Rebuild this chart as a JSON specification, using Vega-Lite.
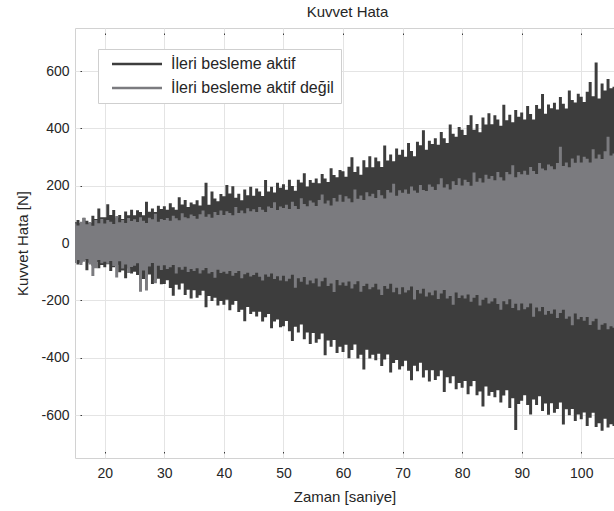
{
  "$schema": "https://vega.github.io/schema/vega-lite/v6.json",
  "width": 539,
  "height": 430,
  "autosize": "none",
  "padding": {"left": 75, "top": 28, "right": 0, "bottom": 53},
  "background": "white",
  "title": {"text": "Kuvvet Hata", "fontSize": 15, "fontWeight": "normal", "font": "Liberation Sans", "color": "#262626", "offset": 8, "dx": 3},
  "config": {
    "view": {"stroke": "#d2d2d2", "strokeWidth": 1},
    "font": "Liberation Sans",
    "axis": {"labelFont": "Liberation Sans", "titleFont": "Liberation Sans", "labelFontSize": 14, "titleFontSize": 15, "titleFontWeight": "normal", "labelColor": "#262626", "titleColor": "#262626", "gridColor": "#e4e4e4", "gridWidth": 1, "domain": false}
  },
  "data": {"values": [
    {"t":15,"ah":72,"al":-59,"dh":69,"dl":-70},{"t":15.5,"ah":80,"al":-75,"dh":61,"dl":-59},{"t":16,"ah":70,"al":-69,"dh":74,"dl":-77},{"t":16.5,"ah":88,"al":-58,"dh":87,"dl":-65},{"t":17,"ah":78,"al":-95,"dh":65,"dl":-56},{"t":17.5,"ah":71,"al":-69,"dh":73,"dl":-75},{"t":18,"ah":95,"al":-79,"dh":60,"dl":-115},{"t":18.5,"ah":84,"al":-66,"dh":80,"dl":-88},{"t":19,"ah":120,"al":-88,"dh":69,"dl":-59},{"t":19.5,"ah":90,"al":-77,"dh":84,"dl":-71},
    {"t":20,"ah":90,"al":-85,"dh":68,"dl":-65},{"t":20.5,"ah":135,"al":-74,"dh":80,"dl":-72},{"t":21,"ah":98,"al":-98,"dh":74,"dl":-63},{"t":21.5,"ah":115,"al":-85,"dh":66,"dl":-80},{"t":22,"ah":89,"al":-76,"dh":94,"dl":-120},{"t":22.5,"ah":98,"al":-102,"dh":72,"dl":-64},{"t":23,"ah":84,"al":-96,"dh":80,"dl":-89},{"t":23.5,"ah":110,"al":-123,"dh":70,"dl":-75},{"t":24,"ah":97,"al":-89,"dh":87,"dl":-105},{"t":24.5,"ah":116,"al":-106,"dh":77,"dl":-84},
    {"t":25,"ah":97,"al":-100,"dh":83,"dl":-79},{"t":25.5,"ah":114,"al":-112,"dh":73,"dl":-71},{"t":26,"ah":108,"al":-102,"dh":90,"dl":-170},{"t":26.5,"ah":97,"al":-126,"dh":78,"dl":-96},{"t":27,"ah":144,"al":-116,"dh":70,"dl":-166},{"t":27.5,"ah":109,"al":-110,"dh":88,"dl":-82},{"t":28,"ah":120,"al":-143,"dh":83,"dl":-70},{"t":28.5,"ah":108,"al":-129,"dh":102,"dl":-140},{"t":29,"ah":130,"al":-125,"dh":74,"dl":-79},{"t":29.5,"ah":119,"al":-144,"dh":84,"dl":-94},
    {"t":30,"ah":128,"al":-143,"dh":80,"dl":-78},{"t":30.5,"ah":116,"al":-130,"dh":87,"dl":-91},{"t":31,"ah":139,"al":-157,"dh":78,"dl":-85},{"t":31.5,"ah":125,"al":-184,"dh":95,"dl":-77},{"t":32,"ah":116,"al":-146,"dh":86,"dl":-106},{"t":32.5,"ah":160,"al":-162,"dh":79,"dl":-85},{"t":33,"ah":134,"al":-141,"dh":104,"dl":-93},{"t":33.5,"ah":150,"al":-181,"dh":90,"dl":-83},{"t":34,"ah":126,"al":-163,"dh":86,"dl":-101},{"t":34.5,"ah":141,"al":-194,"dh":99,"dl":-91},
    {"t":35,"ah":135,"al":-165,"dh":94,"dl":-98},{"t":35.5,"ah":149,"al":-191,"dh":85,"dl":-88},{"t":36,"ah":131,"al":-182,"dh":100,"dl":-106},{"t":36.5,"ah":163,"al":-167,"dh":113,"dl":-95},{"t":37,"ah":210,"al":-224,"dh":92,"dl":-87},{"t":37.5,"ah":133,"al":-185,"dh":100,"dl":-106},{"t":38,"ah":180,"al":-202,"dh":88,"dl":-101},{"t":38.5,"ah":155,"al":-191,"dh":108,"dl":-121},{"t":39,"ah":146,"al":-218,"dh":98,"dl":-93},{"t":39.5,"ah":171,"al":-202,"dh":113,"dl":-105},
    {"t":40,"ah":163,"al":-215,"dh":98,"dl":-100},{"t":40.5,"ah":202,"al":-198,"dh":111,"dl":-107},{"t":41,"ah":173,"al":-235,"dh":105,"dl":-98},{"t":41.5,"ah":198,"al":-215,"dh":97,"dl":-114},{"t":42,"ah":158,"al":-202,"dh":126,"dl":-105},{"t":42.5,"ah":172,"al":-241,"dh":105,"dl":-98},{"t":43,"ah":149,"al":-233,"dh":113,"dl":-123},{"t":43.5,"ah":187,"al":-273,"dh":104,"dl":-109},{"t":44,"ah":167,"al":-223,"dh":121,"dl":-104},{"t":44.5,"ah":196,"al":-248,"dh":111,"dl":-117},
    {"t":45,"ah":165,"al":-240,"dh":118,"dl":-112},{"t":45.5,"ah":190,"al":-256,"dh":108,"dl":-104},{"t":46,"ah":180,"al":-240,"dh":126,"dl":-118},{"t":46.5,"ah":164,"al":-274,"dh":116,"dl":-131},{"t":47,"ah":220,"al":-259,"dh":108,"dl":-110},{"t":47.5,"ah":180,"al":-248,"dh":127,"dl":-118},{"t":48,"ah":196,"al":-297,"dh":122,"dl":-106},{"t":48.5,"ah":176,"al":-274,"dh":142,"dl":-126},{"t":49,"ah":210,"al":-267,"dh":115,"dl":-116},{"t":49.5,"ah":193,"al":-294,"dh":127,"dl":-131},
    {"t":50,"ah":205,"al":-290,"dh":122,"dl":-114},{"t":50.5,"ah":186,"al":-272,"dh":133,"dl":-133},{"t":51,"ah":221,"al":-308,"dh":119,"dl":-125},{"t":51.5,"ah":199,"al":-342,"dh":144,"dl":-111},{"t":52,"ah":182,"al":-292,"dh":129,"dl":-156},{"t":52.5,"ah":221,"al":-312,"dh":119,"dl":-123},{"t":53,"ah":211,"al":-284,"dh":156,"dl":-135},{"t":53.5,"ah":243,"al":-336,"dh":136,"dl":-119},{"t":54,"ah":197,"al":-312,"dh":128,"dl":-145},{"t":54.5,"ah":220,"al":-352,"dh":148,"dl":-131},
    {"t":55,"ah":210,"al":-314,"dh":141,"dl":-140},{"t":55.5,"ah":225,"al":-348,"dh":129,"dl":-124},{"t":56,"ah":208,"al":-336,"dh":150,"dl":-152},{"t":56.5,"ah":241,"al":-316,"dh":169,"dl":-133},{"t":57,"ah":225,"al":-392,"dh":138,"dl":-121},{"t":57.5,"ah":213,"al":-340,"dh":148,"dl":-150},{"t":58,"ah":261,"al":-362,"dh":131,"dl":-141},{"t":58.5,"ah":237,"al":-338,"dh":157,"dl":-171},{"t":59,"ah":229,"al":-384,"dh":145,"dl":-129},{"t":59.5,"ah":255,"al":-362,"dh":168,"dl":-147},
    {"t":60,"ah":250,"al":-380,"dh":144,"dl":-138},{"t":60.5,"ah":231,"al":-355,"dh":163,"dl":-149},{"t":61,"ah":266,"al":-402,"dh":155,"dl":-134},{"t":61.5,"ah":299,"al":-373,"dh":142,"dl":-159},{"t":62,"ah":248,"al":-354,"dh":187,"dl":-144},{"t":62.5,"ah":267,"al":-403,"dh":154,"dl":-133},{"t":63,"ah":238,"al":-390,"dh":166,"dl":-170},{"t":63.5,"ah":289,"al":-441,"dh":150,"dl":-150},{"t":64,"ah":264,"al":-372,"dh":177,"dl":-142},{"t":64.5,"ah":303,"al":-403,"dh":163,"dl":-161},
    {"t":65,"ah":264,"al":-390,"dh":172,"dl":-154},{"t":65.5,"ah":298,"al":-409,"dh":157,"dl":-142},{"t":66,"ah":285,"al":-386,"dh":185,"dl":-162},{"t":66.5,"ah":265,"al":-429,"dh":167,"dl":-181},{"t":67,"ah":340,"al":-406,"dh":155,"dl":-150},{"t":67.5,"ah":288,"al":-389,"dh":185,"dl":-160},{"t":68,"ah":309,"al":-452,"dh":176,"dl":-142},{"t":68.5,"ah":285,"al":-419,"dh":207,"dl":-172},{"t":69,"ah":330,"al":-408,"dh":165,"dl":-156},{"t":69.5,"ah":308,"al":-441,"dh":184,"dl":-179},
    {"t":70,"ah":325,"al":-430,"dh":175,"dl":-154},{"t":70.5,"ah":301,"al":-411,"dh":187,"dl":-173},{"t":71,"ah":349,"al":-446,"dh":172,"dl":-165},{"t":71.5,"ah":321,"al":-479,"dh":197,"dl":-152},{"t":72,"ah":303,"al":-428,"dh":183,"dl":-197},{"t":72.5,"ah":353,"al":-447,"dh":175,"dl":-164},{"t":73,"ah":341,"al":-418,"dh":202,"dl":-176},{"t":73.5,"ah":393,"al":-469,"dh":185,"dl":-160},{"t":74,"ah":325,"al":-444,"dh":181,"dl":-187},{"t":74.5,"ah":357,"al":-483,"dh":204,"dl":-173},
    {"t":75,"ah":345,"al":-444,"dh":196,"dl":-182},{"t":75.5,"ah":365,"al":-478,"dh":185,"dl":-166},{"t":76,"ah":343,"al":-465,"dh":205,"dl":-195},{"t":76.5,"ah":387,"al":-445,"dh":226,"dl":-176},{"t":77,"ah":365,"al":-520,"dh":194,"dl":-164},{"t":77.5,"ah":349,"al":-468,"dh":205,"dl":-194},{"t":78,"ah":413,"al":-489,"dh":187,"dl":-185},{"t":78.5,"ah":381,"al":-465,"dh":215,"dl":-215},{"t":79,"ah":371,"al":-510,"dh":202,"dl":-173},{"t":79.5,"ah":405,"al":-488,"dh":226,"dl":-192},
    {"t":80,"ah":395,"al":-505,"dh":201,"dl":-183},{"t":80.5,"ah":377,"al":-481,"dh":221,"dl":-194},{"t":81,"ah":412,"al":-528,"dh":213,"dl":-180},{"t":81.5,"ah":446,"al":-500,"dh":200,"dl":-205},{"t":82,"ah":395,"al":-481,"dh":246,"dl":-191},{"t":82.5,"ah":415,"al":-531,"dh":214,"dl":-181},{"t":83,"ah":386,"al":-518,"dh":226,"dl":-218},{"t":83.5,"ah":438,"al":-570,"dh":211,"dl":-198},{"t":84,"ah":413,"al":-501,"dh":238,"dl":-191},{"t":84.5,"ah":453,"al":-533,"dh":224,"dl":-211},
    {"t":85,"ah":414,"al":-520,"dh":234,"dl":-204},{"t":85.5,"ah":446,"al":-538,"dh":219,"dl":-193},{"t":86,"ah":431,"al":-514,"dh":248,"dl":-213},{"t":86.5,"ah":409,"al":-556,"dh":229,"dl":-233},{"t":87,"ah":482,"al":-532,"dh":218,"dl":-203},{"t":87.5,"ah":428,"al":-514,"dh":248,"dl":-214},{"t":88,"ah":447,"al":-576,"dh":240,"dl":-196},{"t":88.5,"ah":421,"al":-542,"dh":271,"dl":-227},{"t":89,"ah":464,"al":-652,"dh":229,"dl":-212},{"t":89.5,"ah":440,"al":-562,"dh":248,"dl":-235},
    {"t":90,"ah":455,"al":-550,"dh":240,"dl":-211},{"t":90.5,"ah":431,"al":-531,"dh":252,"dl":-231},{"t":91,"ah":478,"al":-565,"dh":238,"dl":-224},{"t":91.5,"ah":450,"al":-598,"dh":265,"dl":-211},{"t":92,"ah":431,"al":-546,"dh":251,"dl":-257},{"t":92.5,"ah":481,"al":-565,"dh":241,"dl":-225},{"t":93,"ah":468,"al":-535,"dh":279,"dl":-238},{"t":93.5,"ah":520,"al":-586,"dh":260,"dl":-223},{"t":94,"ah":451,"al":-560,"dh":254,"dl":-250},{"t":94.5,"ah":483,"al":-599,"dh":274,"dl":-237},
    {"t":95,"ah":470,"al":-559,"dh":268,"dl":-247},{"t":95.5,"ah":489,"al":-592,"dh":257,"dl":-232},{"t":96,"ah":466,"al":-579,"dh":279,"dl":-262},{"t":96.5,"ah":509,"al":-556,"dh":336,"dl":-244},{"t":97,"ah":486,"al":-633,"dh":269,"dl":-233},{"t":97.5,"ah":469,"al":-580,"dh":281,"dl":-264},{"t":98,"ah":532,"al":-601,"dh":264,"dl":-256},{"t":98.5,"ah":499,"al":-579,"dh":295,"dl":-287},{"t":99,"ah":490,"al":-621,"dh":280,"dl":-246},{"t":99.5,"ah":521,"al":-598,"dh":305,"dl":-266},
    {"t":100,"ah":510,"al":-615,"dh":281,"dl":-258},{"t":100.5,"ah":492,"al":-591,"dh":301,"dl":-271},{"t":101,"ah":528,"al":-638,"dh":294,"dl":-258},{"t":101.5,"ah":562,"al":-610,"dh":281,"dl":-286},{"t":102,"ah":512,"al":-592,"dh":327,"dl":-273},{"t":102.5,"ah":630,"al":-642,"dh":295,"dl":-264},{"t":103,"ah":504,"al":-629,"dh":309,"dl":-303},{"t":103.5,"ah":556,"al":-655,"dh":293,"dl":-285},{"t":104,"ah":532,"al":-613,"dh":320,"dl":-280},{"t":104.5,"ah":572,"al":-644,"dh":371,"dl":-301},
    {"t":105,"ah":540,"al":-632,"dh":305,"dl":-290},{"t":105.5,"ah":545,"al":-638,"dh":312,"dl":-296}
  ]},
  "layer": [
    {
      "mark": {"type": "area", "interpolate": "step"},
      "encoding": {
        "x": {"field": "t", "type": "quantitative", "scale": {"domain": [15, 105.5], "nice": false, "zero": false},
              "axis": {"orient": "bottom", "values": [20, 30, 40, 50, 60, 70, 80, 90, 100], "title": "Zaman [saniye]", "grid": true,
                       "tickSize": -7, "tickColor": "#3a3a3a", "tickDash": [0.01, 5, 1.5, 20], "labelPadding": 15, "titleY": 43, "titleBaseline": "alphabetic"}},
        "y": {"field": "ah", "type": "quantitative", "scale": {"domain": [-750, 750], "nice": false, "zero": false},
              "axis": {"values": [-600, -400, -200, 0, 200, 400, 600], "title": "Kuvvet Hata [N]", "grid": true, "labelExpr": "'' + datum.value",
                       "tickSize": -7, "tickColor": "#3a3a3a", "tickDash": [0.01, 5, 1.5, 20], "labelPadding": 13, "titleX": -53, "titleBaseline": "middle"}},
        "y2": {"field": "al"},
        "color": {"datum": "İleri besleme aktif", "type": "nominal",
                  "scale": {"domain": ["İleri besleme aktif", "İleri besleme aktif değil"], "range": ["#3d3d3d", "#7b7b7f"]},
                  "legend": {"orient": "none", "legendX": 23, "legendY": 21, "title": null, "symbolType": "M-0.2,0H9.8", "symbolSize": 100, "symbolStrokeWidth": 2.5,
                             "labelFont": "Liberation Sans", "labelFontSize": 16, "labelColor": "#262626", "labelOffset": 50, "labelLimit": 400,
                             "padding": 7, "fillColor": "white", "strokeColor": "#cfcfcf", "rowPadding": 8,
                             "encode": {"symbols": {"update": {"stroke": {"scale": "color", "field": "value"}, "strokeWidth": {"value": 2.5}, "fill": {"value": "transparent"}}}}}}
      }
    },
    {
      "mark": {"type": "area", "interpolate": "step"},
      "encoding": {
        "x": {"field": "t", "type": "quantitative",
              "axis": {"orient": "top", "values": [20, 30, 40, 50, 60, 70, 80, 90, 100], "title": null, "labels": false, "grid": false,
                       "tickSize": -7, "tickColor": "#3a3a3a", "tickDash": [0.01, 5, 1.5, 20]}},
        "y": {"field": "dh", "type": "quantitative"},
        "y2": {"field": "dl"},
        "color": {"datum": "İleri besleme aktif değil", "type": "nominal"}
      }
    }
  ]
}
